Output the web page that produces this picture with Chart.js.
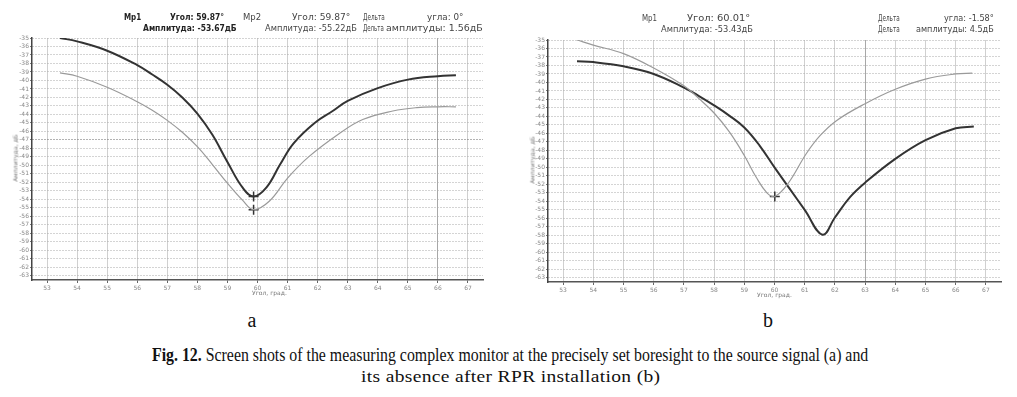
<!DOCTYPE html>
<html>
<head>
<meta charset="utf-8">
<script src="https://cdn.jsdelivr.net/npm/chart.js@4"></script>
<style>
  body { margin: 0; background: #fff; width: 1017px; height: 397px; position: relative; overflow: hidden; }
  .box { position: absolute; }
  .t { position: absolute; font-family: "DejaVu Sans", sans-serif; font-size: 8px; color: #444; white-space: nowrap; line-height: 10px; transform-origin: 0 0; }
  .b { font-weight: bold; color: #222; }
  .ax { position: absolute; font-family: "DejaVu Sans", sans-serif; font-size: 6px; color: #777; white-space: nowrap; }
  .rot { transform: translate(-50%, -50%) rotate(-90deg); }
  .cap { position: absolute; font-family: "Liberation Serif", serif; color: #111; white-space: nowrap; transform-origin: 0 0; }
</style>
</head>
<body>

<div class="box" style="left:0;top:0;width:500px;height:300px"><canvas id="chartA"></canvas></div>
<div class="box" style="left:520px;top:0;width:490px;height:300px"><canvas id="chartB"></canvas></div>

<!-- header a -->
<div class="t b" data-w="17" style="left:124px;top:13px">Мр1</div>
<div class="t b" data-w="54" style="left:170px;top:13px">Угол: 59.87°</div>
<div class="t" data-w="18" style="left:243px;top:13px">Мр2</div>
<div class="t" data-w="58" style="left:292px;top:13px">Угол: 59.87°</div>
<div class="t" data-w="22" style="left:363px;top:13px">Дельта</div>
<div class="t" data-w="36" style="left:427px;top:13px">угла: 0°</div>
<div class="t b" data-w="94" style="left:143px;top:24px">Амплитуда: -53.67дБ</div>
<div class="t" data-w="92" style="left:265px;top:24px">Амплитуда: -55.22дБ</div>
<div class="t" data-w="21" style="left:363px;top:24px">Дельта</div>
<div class="t" data-w="97" style="left:386px;top:24px">амплитуды: 1.56дБ</div>

<!-- header b -->
<div class="t" data-w="15" style="left:642px;top:14px">Мр1</div>
<div class="t" data-w="63" style="left:687px;top:14px">Угол: 60.01°</div>
<div class="t" data-w="92" style="left:661px;top:25px">Амплитуда: -53.43дБ</div>
<div class="t" data-w="22" style="left:878px;top:14px">Дельта</div>
<div class="t" data-w="50" style="left:944px;top:14px">угла: -1.58°</div>
<div class="t" data-w="22" style="left:878px;top:25px">Дельта</div>
<div class="t" data-w="78" style="left:916px;top:25px">амплитуды: 4.5дБ</div>

<!-- axis titles -->
<div class="ax rot" style="left:15px;top:158px">Амплитуда, дБ</div>
<div class="ax rot" style="left:532px;top:160px">Амплитуда, дБ</div>
<div class="ax" style="left:252px;top:289px">Угол, град.</div>
<div class="ax" style="left:757px;top:291px">Угол, град.</div>

<!-- caption -->
<div class="cap" id="la" style="font-size:20px;top:309px">a</div>
<div class="cap" id="lb" style="font-size:20px;top:309px">b</div>
<div class="cap" id="c1" style="font-size:18px;top:345px"><b>Fig. 12.</b> Screen shots of the measuring complex monitor at the precisely set boresight to the source signal (a) and</div>
<div class="cap" id="c2" style="font-size:17.5px;top:366px;letter-spacing:0.3px">its absence after RPR installation (b)</div>

<script>
// angle range and amplitude range of both screens
const xMin = 52.5, xMax = 67.5;
const yMin = -63.5, yMax = -35;
const xTicks = [53, 54, 55, 56, 57, 58, 59, 60, 61, 62, 63, 64, 65, 66, 67];
const yTicks = [-35, -36, -37, -38, -39, -40, -41, -42, -43, -44, -45, -46, -47, -48, -49, -50,
                -51, -52, -53, -54, -55, -56, -57, -58, -59, -60, -61, -62, -63];

// screen a: [angle, amplitude dB]
const aDark = [[53.43,-35.0],[54,-35.4],[55,-36.5],[56,-38.2],[56.5,-39.3],[57,-40.5],[57.5,-42.0],[58,-43.9],[58.5,-46.4],[59,-49.6],[59.5,-52.6],[59.87,-53.67],[60.3,-52.6],[60.75,-49.9],[61.2,-47.4],[61.9,-45.0],[62.5,-43.6],[63,-42.4],[64,-40.9],[65,-39.9],[66,-39.5],[66.6,-39.4]];
const aLight = [[53.43,-39.1],[54,-39.5],[55,-40.8],[56,-42.5],[56.5,-43.5],[57,-44.7],[57.5,-46.1],[58,-47.8],[58.5,-49.9],[59,-52.1],[59.5,-54.1],[59.87,-55.22],[60.4,-54.2],[61,-51.5],[61.7,-49.0],[62.7,-46.3],[63.5,-44.6],[64.5,-43.6],[65.3,-43.2],[66,-43.1],[66.6,-43.1]];
const aMarkers = [[59.87,-53.67],[59.87,-55.22]];

// screen b
const bLight = [[53.46,-35.0],[54,-35.6],[55,-36.6],[56,-38.3],[57,-40.4],[57.5,-41.9],[58,-43.6],[58.5,-45.8],[59,-48.6],[59.4,-51.2],[59.75,-53.0],[60.01,-53.43],[60.45,-51.9],[61.05,-48.4],[61.5,-46.3],[62.05,-44.5],[63,-42.5],[64,-40.8],[65,-39.6],[66,-39.0],[66.55,-38.9]];
const bDark = [[53.46,-37.5],[54,-37.6],[55,-38.1],[56,-39.0],[57,-40.6],[57.5,-41.6],[58,-42.7],[58.5,-43.9],[59,-45.3],[59.5,-47.4],[60,-50.0],[60.5,-52.5],[61,-55.0],[61.59,-57.93],[62,-55.9],[62.5,-53.5],[63,-51.8],[64,-49.0],[65,-46.8],[66,-45.4],[66.6,-45.2]];
const bMarkers = [[60.01,-53.43]];

const toPts = arr => arr.map(p => ({ x: p[0], y: p[1] }));

function makeChart(id, dark, light, markers, box, darkX, darkY) {
  const datasets = [
    { data: toPts(light), borderColor: "#9a9a9a", borderWidth: 1.2, pointRadius: 0, tension: 0.4 },
    { data: toPts(dark), borderColor: "#333", borderWidth: 2, pointRadius: 0, tension: 0.4 },
    { data: toPts(markers), showLine: false, pointStyle: "cross", pointRadius: 5, pointBorderWidth: 1.5, pointBorderColor: "#333", borderColor: "#333" }
  ];
  return new Chart(document.getElementById(id), {
    type: "line",
    data: { datasets },
    options: {
      responsive: true,
      maintainAspectRatio: false,
      animation: false,
      layout: { padding: { top: box.top, right: box.right, left: 0, bottom: 0 } },
      plugins: { legend: { display: false }, tooltip: { enabled: false } },
      scales: {
        x: {
          type: "linear", min: xMin, max: xMax,
          afterBuildTicks: s => { s.ticks = xTicks.map(v => ({ value: v })); },
          afterFit: s => { s.height = box.xh; },
          grid: { color: c => c.tick.value === darkX ? "#a8a8a8" : "#d0d0d0", tickColor: "#666", tickLength: 3 },
          border: { color: "#555", width: 1.5 },
          ticks: { autoSkip: false, maxRotation: 0, padding: 2, color: "#888", font: { size: 6, family: "DejaVu Sans" } }
        },
        y: {
          type: "linear", min: yMin, max: yMax,
          afterBuildTicks: s => { s.ticks = yTicks.map(v => ({ value: v })); },
          afterFit: s => { s.width = box.yw; },
          grid: { color: c => c.tick.value === darkY ? "#666" : "#a8a8a8", tickColor: "#777", tickLength: 2 },
          border: { color: "#444", width: 1.5, dash: [1, 2] },
          ticks: { autoSkip: false, padding: 1, color: "#888", font: { size: 6, family: "DejaVu Sans" } }
        }
      }
    }
  });
}

makeChart("chartA", aDark, aLight, aMarkers, { top: 38, right: 17, xh: 20, yw: 32 }, 66, -47);
makeChart("chartB", bDark, bLight, bMarkers, { top: 40, right: 9, xh: 18, yw: 28 }, 63, null);

// squeeze header texts to the widths of the monitor font
document.querySelectorAll(".t[data-w]").forEach(el => {
  el.style.transform = "scaleX(" + (+el.dataset.w / el.offsetWidth) + ")";
});

// caption: letters centred under panels, lines fitted to their widths
function centre(id, cx, w) {
  const el = document.getElementById(id);
  const k = w ? w / el.offsetWidth : 1;
  el.style.transform = "scaleX(" + k + ")";
  el.style.left = (cx - el.offsetWidth * k / 2) + "px";
}
centre("la", 252);
centre("lb", 768);
centre("c1", 510, 716);
centre("c2", 511, 300);
</script>
</body>
</html>
